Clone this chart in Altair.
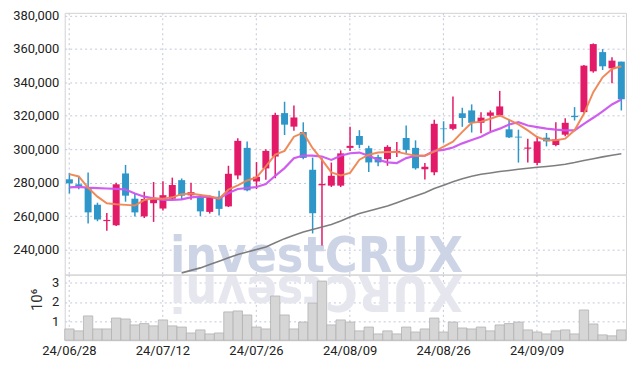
import altair as alt
import pandas as pd

dates = ["24/06/28","24/07/01","24/07/02","24/07/03","24/07/04","24/07/05","24/07/08","24/07/09","24/07/10","24/07/11",
         "24/07/12","24/07/15","24/07/16","24/07/17","24/07/18","24/07/19","24/07/22","24/07/23","24/07/24","24/07/25",
         "24/07/26","24/07/29","24/07/30","24/07/31","24/08/01","24/08/02","24/08/05","24/08/06","24/08/07","24/08/08",
         "24/08/09","24/08/12","24/08/13","24/08/14","24/08/16","24/08/19","24/08/20","24/08/21","24/08/22","24/08/23",
         "24/08/26","24/08/27","24/08/28","24/08/29","24/08/30","24/09/02","24/09/03","24/09/04","24/09/05","24/09/06",
         "24/09/09","24/09/10","24/09/11","24/09/12","24/09/13","24/09/19","24/09/20","24/09/23","24/09/24","24/09/25"]

opens = [282000,279000,277000,266700,257000,254500,285500,270400,259800,267700,
         264500,270400,281500,272400,271600,262500,271600,265800,284300,300800,
         280700,288500,295600,321600,313500,310300,287700,278400,278200,278200,
         300800,307900,300600,295300,294100,298000,306700,300800,288000,286200,
         312400,312200,321500,323200,315800,320000,320200,311900,307500,300300,
         291800,306900,302500,308700,320000,322200,346600,358100,348400,352400]
highs = [285700,283500,286000,268000,261800,280000,290600,273500,274500,280400,
         280800,283000,282500,280000,273000,272300,275200,290100,306500,304600,
         292300,300000,321800,328400,326200,316100,295000,294600,292000,299300,
         313400,311400,302000,296700,302400,304300,314200,305300,291700,317700,
         316700,331500,324800,326800,322100,323200,334900,317600,311700,306300,
         307700,309700,316200,318600,325200,350400,363300,359900,355000,352400]
lows = [273500,276000,255500,256900,251200,254100,268600,259800,258800,256500,
        263300,269800,269600,269800,260000,261500,260300,265400,282100,274800,
        276200,281700,282700,308500,311100,294000,249600,242400,277400,277400,
        299000,300600,286400,289800,290100,295300,297600,287800,281900,284400,
        303900,311400,313400,310000,309500,310700,319600,306700,292000,292000,
        290400,301700,301700,307700,317200,321800,345800,347400,339500,323200]
closes = [279600,278000,262200,257900,257700,279000,272200,262200,270200,270000,
          272500,278600,272200,274300,262800,271800,264300,285300,305000,275400,
          283500,299000,320500,314700,319000,294800,261700,279200,284100,297500,
          302000,302600,292100,292100,301400,299000,299600,288600,289500,315200,
          312000,315000,318700,315800,318900,322000,325600,307100,307000,301000,
          304700,304700,305900,315800,319200,350000,362900,349600,353000,329900]
volumes_m = [0.59,0.49,1.27,0.59,0.59,1.16,1.11,0.80,0.87,0.75,
             1.06,0.75,0.69,0.38,0.54,0.33,0.38,1.48,1.53,1.32,
             0.69,0.59,2.31,1.32,0.59,0.95,1.94,3.09,0.80,1.06,
             0.95,0.49,0.69,0.33,0.49,0.33,0.69,0.43,0.59,1.16,
             0.43,0.95,0.64,0.59,0.69,0.49,0.80,0.87,0.95,0.54,
             0.43,0.33,0.49,0.54,0.33,1.58,0.85,0.28,0.23,0.54]
ma5 = [285100,283700,276900,271600,267700,267100,266700,266300,269600,270600,
       270300,271200,273100,273500,272600,271800,270400,275800,278400,281300,
       283100,289700,296800,299000,307500,309900,300600,293600,286100,284300,
       285800,293700,296700,298000,298400,298400,297200,296100,296100,298600,
       301600,304500,310400,315800,316500,318200,320200,317600,314800,311300,
       307300,305300,305300,306300,311300,321200,334100,343000,348000,349600]
ma20 = [277200,277500,277000,276700,276500,276300,275900,273500,271600,270600,
        269600,269600,270000,271200,271600,271400,270400,273800,276200,276800,
        277400,279100,284100,288700,294600,296200,296200,295600,293600,296100,
        297600,298000,296100,293700,292100,291700,294700,296100,296100,299000,
        299600,301000,303500,305500,307400,310300,312300,314800,316200,314200,
        313200,312300,311700,311300,311300,315200,318800,322600,326800,329700]
ma60 = [None]*12 + [226000,227500,229000,231000,233000,235000,237000,238500,
        240000,241500,244000,246500,248500,250500,252000,253500,255000,257000,
        259500,261500,263000,264500,266000,268000,270000,272000,274000,276500,
        278500,280500,282300,283800,285000,285800,286700,287300,288000,288600,
        289200,289700,290300,291000,292000,293200,294300,295400,296400,297300]
label_dates = ["24/06/28","24/07/12","24/07/26","24/08/09","24/08/26","24/09/09"]
price_ticks = [240000,260000,280000,300000,320000,340000,360000,380000]
vol_ticks = [1000000,2000000,3000000]
watermark = "investCRUX"

df = pd.DataFrame({"d": dates, "o": opens, "h": highs, "l": lows, "c": closes,
                   "vol": [v * 1e6 for v in volumes_m],
                   "ma5": ma5, "ma20": ma20, "ma60": ma60})
df["dir"] = ["up" if c >= o else "down" for o, c in zip(opens, closes)]

RED = "#e31a68"
BLUE = "#2e96c8"
GRID = "#c3c8da"
LABEL_FONT = "Roboto"
WM_FONT = "DejaVu Sans Condensed, Liberation Sans Narrow, DejaVu Sans"

xscale = alt.Scale(domain=dates, paddingInner=0, paddingOuter=0)
x_top = alt.X("d:O", scale=xscale,
              axis=alt.Axis(values=label_dates, labels=False, ticks=False, domain=False,
                            title=None, grid=True, minExtent=0, maxExtent=0))
pscale = alt.Scale(domain=[225000, 381600], nice=False, zero=False)
y_axis = alt.Axis(values=price_ticks, labelExpr="format(datum.value, ',')", title=None,
                  ticks=False, domain=False, labelPadding=6, grid=True)
colr = alt.Color("dir:N", scale=alt.Scale(domain=["up", "down"], range=[RED, BLUE]), legend=None)

base = alt.Chart(df)

wm = alt.Chart(pd.DataFrame({"t": [watermark]})).mark_text(
    font=WM_FONT, fontWeight="bold", fontSize=50, color="#cdd4e6",
    align="center", baseline="alphabetic"
).encode(x=alt.value(253), y=alt.value(260), text="t:N")

wicks = base.mark_rule(strokeWidth=1.5).encode(
    x=x_top, y=alt.Y("l:Q", scale=pscale, axis=y_axis), y2="h:Q", color=colr)
bodies = base.mark_bar(size=7).encode(
    x=x_top, y=alt.Y("o:Q", scale=pscale, axis=y_axis), y2="c:Q", color=colr)

def ma_line(field, color, width):
    return base.mark_line(strokeWidth=width, clip=True, color=color, opacity=0.95).encode(
        x=x_top, y=alt.Y(f"{field}:Q", scale=pscale, axis=y_axis))

top = alt.layer(
    wm, wicks, bodies,
    ma_line("ma60", "#777777", 1.6),
    ma_line("ma20", "#cc55ee", 2.2),
    ma_line("ma5", "#ee8552", 2.0),
).properties(width=564, height=263)

refl = alt.Chart(pd.DataFrame({"t": [watermark[::-1]]})).mark_text(
    font=WM_FONT, fontWeight="bold", fontSize=50, color="#e6e6ef",
    align="center", baseline="alphabetic", angle=180
).encode(x=alt.value(253), y=alt.value(1), text="t:N")

vol = base.mark_bar(fill="#d6d6d6", stroke="#b2b2b2", strokeWidth=0.8).encode(
    x=alt.X("d:O", scale=xscale,
            axis=alt.Axis(values=label_dates, labelAngle=0, ticks=False, domain=False,
                          title=None, grid=True, labelPadding=4)),
    y=alt.Y("vol:Q", scale=alt.Scale(domain=[0, 3430000], nice=False),
            axis=alt.Axis(values=vol_ticks, labelExpr="datum.value / 1000000", title="10⁶",
                          ticks=False, domain=False, labelPadding=6, grid=True,
                          titleAngle=-90, titleX=-28, titleY=25, titleAlign="center",
                          titleBaseline="middle", titleFontWeight="normal", titleFontSize=15,
                          titleColor="#333333", titleFont=LABEL_FONT)))

bottom = alt.layer(refl, vol).properties(width=564, height=66)

chart = alt.vconcat(top, bottom, spacing=0, bounds="flush").properties(
    padding={"left": 4, "top": 0, "right": 2, "bottom": 2}
).configure_view(stroke="#d2d2d2", strokeWidth=1).configure_axis(
    gridColor=GRID, gridDash=[2, 3], gridWidth=1, labelFont=LABEL_FONT, labelFontSize=13,
    labelColor="#222222"
)

chart.save("out.html", embed_options={"renderer": "svg", "actions": False})
